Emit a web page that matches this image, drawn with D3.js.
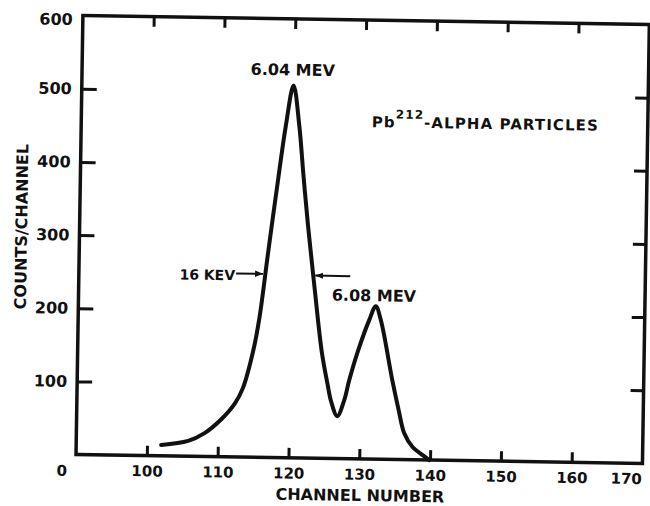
<!DOCTYPE html>
<html>
<head>
<meta charset="utf-8">
<script src="https://cdn.jsdelivr.net/npm/d3@7"></script>
<style>
  body { margin: 0; background: #fff; }
  svg text { font-family: "DejaVu Sans", sans-serif; font-weight: bold; fill: #111; }
</style>
</head>
<body>
<svg id="chart" width="650" height="506"></svg>
<script>
// Pb212 alpha spectrum
var channels = [102.0, 105.8, 108.1, 110.4, 112.3, 113.4, 114.8, 115.6, 116.7, 118.0,
                118.9, 119.9, 120.8, 121.5, 122.25, 123.3, 124.5, 125.35, 125.9, 126.8,
                127.75, 128.4, 129.5, 131.1, 132.0, 132.75, 134.5, 135.45, 136.3, 137.5,
                138.9, 139.9];
var counts = [15, 21, 32, 51, 73, 94, 146, 191, 282, 386,
              454, 509, 454, 386, 318, 234, 144, 102, 78, 58,
              80, 107, 145, 190, 209, 190, 108, 68, 36, 17.5,
              7, 0];
var xTicks = [100, 110, 120, 130, 140, 150, 160, 170];
var yTicks = [100, 200, 300, 400, 500, 600];
var peaks = [{ label: "6.04 MEV", channel: 119.9, count: 509 },
             { label: "6.08 MEV", channel: 132.0, count: 209 }];
var fwhm = { label: "16 KEV", left: 116.3, right: 123.1, count: 251 };

var width = 650, height = 506;
var margin = { top: 20, right: 4, bottom: 47, left: 79.5 };

var x = d3.scaleLinear().domain([90, 170]).range([margin.left, width - margin.right]);
var y = d3.scaleLinear().domain([0, 600]).range([height - margin.bottom, margin.top]);

var ink = "#111";
// the scanned page is turned slightly clockwise
var svg = d3.select("#chart").append("g").attr("transform", "rotate(0.9,362,235)");

// frame
svg.append("rect")
  .attr("x", x(90)).attr("y", y(600))
  .attr("width", x(170) - x(90)).attr("height", y(0) - y(600))
  .attr("fill", "none").attr("stroke", ink).attr("stroke-width", 3.5);

// inward ticks on all four sides
function styleAxis(size) {
  return function(g) {
    g.select(".domain").remove();
    g.selectAll(".tick line").attr("stroke", ink).attr("stroke-width", 3);
    g.selectAll(".tick text").style("font-size", size);
  };
}

svg.append("g")
  .attr("transform", "translate(0," + y(0) + ")")
  .call(d3.axisBottom(x).tickValues(xTicks.slice(0, 7)).tickSize(-10).tickPadding(10).tickFormat(d3.format("d")))
  .call(styleAxis("15px"));
// 170 label sits left of the corner, no tick
svg.append("text")
  .attr("x", x(170) - 16).attr("y", y(0) + 10).attr("dy", "0.71em")
  .attr("text-anchor", "middle").style("font-size", "15px")
  .text(xTicks[7]);

svg.append("g")
  .attr("transform", "translate(0," + y(600) + ")")
  .call(d3.axisTop(x).tickValues(xTicks.slice(0, 7)).tickSize(-10).tickFormat(""))
  .call(styleAxis("15px"));

svg.append("g")
  .attr("transform", "translate(" + x(90) + ",0)")
  .call(d3.axisLeft(y).tickValues(yTicks.slice(0, 5)).tickSize(-15).tickPadding(10).tickFormat(d3.format("d")))
  .call(styleAxis("16px"));
svg.append("text")
  .attr("x", x(90) - 10).attr("y", y(600) + 4).attr("dy", "0.35em")
  .attr("text-anchor", "end").style("font-size", "16px")
  .text(yTicks[5]);
svg.append("text")
  .attr("x", x(90) - 14).attr("y", y(0) + 11).attr("dy", "0.71em")
  .attr("text-anchor", "middle").style("font-size", "15px")
  .text("0");

svg.append("g")
  .attr("transform", "translate(" + x(170) + ",0)")
  .call(d3.axisRight(y).tickValues(yTicks.slice(0, 5)).tickSize(-13).tickFormat(""))
  .call(styleAxis("15px"));

// axis titles
svg.append("text")
  .attr("x", 364).attr("y", 501)
  .attr("text-anchor", "middle").style("font-size", "16px")
  .text("CHANNEL NUMBER");
svg.append("text")
  .attr("transform", "translate(27,232) rotate(-90)")
  .attr("text-anchor", "middle").style("font-size", "16px")
  .text("COUNTS/CHANNEL");

// spectrum
var line = d3.line()
  .x(function(d, i) { return x(channels[i]); })
  .y(function(d) { return y(d); })
  .curve(d3.curveCatmullRom.alpha(0.5));

svg.append("path")
  .datum(counts)
  .attr("d", line)
  .attr("fill", "none").attr("stroke", ink)
  .attr("stroke-width", 4).attr("stroke-linecap", "round");

// peak labels
svg.append("text")
  .attr("x", x(peaks[0].channel) - 1).attr("y", y(peaks[0].count) - 10)
  .attr("text-anchor", "middle").style("font-size", "16px")
  .text(peaks[0].label);
svg.append("text")
  .attr("x", x(peaks[1].channel) - 2).attr("y", y(peaks[1].count) - 5)
  .attr("text-anchor", "middle").style("font-size", "16px")
  .text(peaks[1].label);

// FWHM markers
var fy = y(fwhm.count);
d3.select("#chart").append("defs").append("marker")
  .attr("id", "arrow").attr("viewBox", "0 0 10 10")
  .attr("refX", 10).attr("refY", 5)
  .attr("markerWidth", 4).attr("markerHeight", 4)
  .attr("orient", "auto")
  .append("path").attr("d", "M0,1L10,5L0,9z").attr("fill", ink);

svg.append("line")
  .attr("x1", x(fwhm.left) - 29).attr("x2", x(fwhm.left) - 2)
  .attr("y1", fy).attr("y2", fy)
  .attr("stroke", ink).attr("stroke-width", 2).attr("marker-end", "url(#arrow)");
svg.append("line")
  .attr("x1", x(fwhm.right) + 37).attr("x2", x(fwhm.right) + 2)
  .attr("y1", fy + 1).attr("y2", fy + 1)
  .attr("stroke", ink).attr("stroke-width", 2).attr("marker-end", "url(#arrow)");
svg.append("text")
  .attr("x", x(fwhm.left) - 30).attr("y", fy + 2).attr("dy", "0.35em")
  .attr("text-anchor", "end").style("font-size", "14px")
  .text(fwhm.label);

// title
var title = svg.append("text")
  .attr("x", 370).attr("y", 127)
  .style("font-size", "15px").style("letter-spacing", "1.1px");
title.append("tspan").text("Pb");
title.append("tspan").attr("dy", -9).style("font-size", "12px").text("212");
title.append("tspan").attr("dy", 9).text("-ALPHA PARTICLES");
</script>
</body>
</html>
